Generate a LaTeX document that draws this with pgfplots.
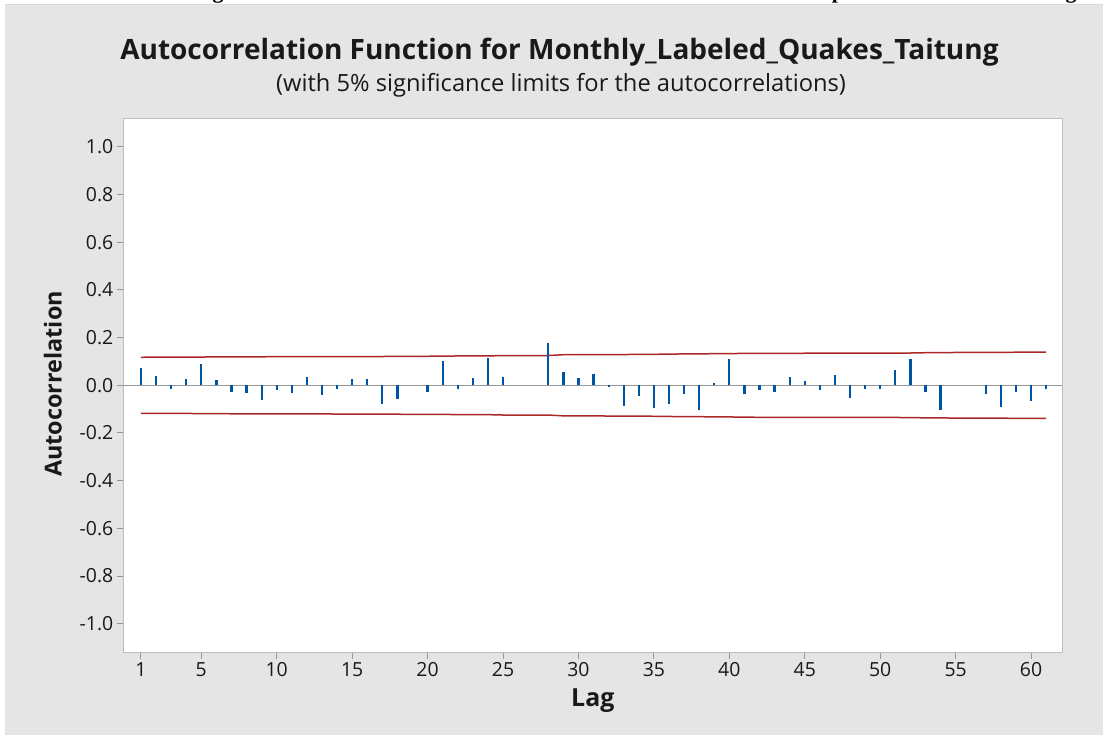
\documentclass[border=0pt]{standalone}
\usepackage{pgfplots}
\pgfplotsset{compat=1.18}
\usepackage{pgfplotstable}
\usepackage{fontspec}
\setmainfont{Open Sans}
\newfontfamily\serifb{Liberation Serif}
\definecolor{bg}{RGB}{229,229,229}
\definecolor{acfblue}{RGB}{0,84,166}
\definecolor{limred}{RGB}{170,40,40}
\definecolor{framegray}{RGB}{190,190,190}
\definecolor{tickgray}{RGB}{150,150,150}

\pgfplotstableread{
lag r
1 0.074
2 0.038
3 -0.014
4 0.025
5 0.088
6 0.022
7 -0.029
8 -0.034
9 -0.061
10 -0.018
11 -0.034
12 0.034
13 -0.042
14 -0.015
15 0.025
16 0.025
17 -0.078
18 -0.059
19 0.000
20 -0.030
21 0.103
22 -0.015
23 0.029
24 0.115
25 0.035
26 0.000
27 0.000
28 0.176
29 0.055
30 0.031
31 0.048
32 -0.007
33 -0.087
34 -0.045
35 -0.094
36 -0.078
37 -0.036
38 -0.102
39 0.008
40 0.112
41 -0.037
42 -0.018
43 -0.029
44 0.035
45 0.020
46 -0.018
47 0.043
48 -0.053
49 -0.014
50 -0.014
51 0.063
52 0.110
53 -0.029
54 -0.102
55 0.000
56 0.000
57 -0.036
58 -0.089
59 -0.027
60 -0.066
61 -0.014
}\acftab

\pgfplotstableread{
lag up lo
1 0.1175 -0.1175
2 0.1181 -0.1181
3 0.1183 -0.1183
4 0.1183 -0.1183
5 0.1184 -0.1184
6 0.1193 -0.1193
7 0.1194 -0.1194
8 0.1195 -0.1195
9 0.1196 -0.1196
10 0.1200 -0.1200
11 0.1201 -0.1201
12 0.1202 -0.1202
13 0.1203 -0.1203
14 0.1205 -0.1205
15 0.1206 -0.1206
16 0.1206 -0.1206
17 0.1207 -0.1207
18 0.1214 -0.1214
19 0.1218 -0.1218
20 0.1218 -0.1218
21 0.1219 -0.1219
22 0.1231 -0.1231
23 0.1231 -0.1231
24 0.1232 -0.1232
25 0.1247 -0.1247
26 0.1248 -0.1248
27 0.1248 -0.1248
28 0.1248 -0.1248
29 0.1282 -0.1282
30 0.1285 -0.1285
31 0.1286 -0.1286
32 0.1289 -0.1289
33 0.1289 -0.1289
34 0.1297 -0.1297
35 0.1299 -0.1299
36 0.1308 -0.1308
37 0.1315 -0.1315
38 0.1316 -0.1316
39 0.1327 -0.1327
40 0.1327 -0.1327
41 0.1340 -0.1340
42 0.1341 -0.1341
43 0.1342 -0.1342
44 0.1343 -0.1343
45 0.1344 -0.1344
46 0.1344 -0.1344
47 0.1345 -0.1345
48 0.1347 -0.1347
49 0.1349 -0.1349
50 0.1350 -0.1350
51 0.1350 -0.1350
52 0.1354 -0.1354
53 0.1366 -0.1366
54 0.1367 -0.1367
55 0.1377 -0.1377
56 0.1377 -0.1377
57 0.1377 -0.1377
58 0.1379 -0.1379
59 0.1387 -0.1387
60 0.1387 -0.1387
61 0.1392 -0.1392
}\limtab

\begin{document}
\begin{tikzpicture}[x=1bp,y=1bp]
\useasboundingbox (0,0) rectangle (1103,735);
\fill[white] (0,0) rectangle (1103,735);
\fill[bg] (5,0) rectangle (1103,730);
\draw[framegray!60, line width=1bp] (5,730.5) -- (1103,730.5);
\begin{axis}[
  at={(123.3bp,82.7bp)}, anchor=south west,
  scale only axis, width=939bp, height=534bp,
  xmin=-0.17, xmax=62.07, ymin=-1.12, ymax=1.12,
  axis background/.style={fill=white},
  axis line style={framegray, line width=1bp},
  xtick={1,5,10,15,20,25,30,35,40,45,50,55,60},
  ytick={-1,-0.8,-0.6,-0.4,-0.2,0,0.2,0.4,0.6,0.8,1},
  tick pos=left, tick align=outside,
  major tick length=6.5bp,
  tick style={tickgray, line width=1bp},
  ticklabel style={font=\fontsize{19.5}{21}\selectfont, text=black!90},
  yticklabel style={/pgf/number format/fixed, /pgf/number format/fixed zerofill, /pgf/number format/precision=1, /pgf/number format/assume math mode=true},
  xticklabel style={/pgf/number format/assume math mode=true},
  clip=false,
]
\addplot[tickgray, line width=1.2bp, forget plot] coordinates {(-0.17,0) (62.07,0)};
\addplot[limred, line width=1.5bp, forget plot] table[x=lag,y=up]{\limtab};
\addplot[limred, line width=1.5bp, forget plot] table[x=lag,y=lo]{\limtab};
\addplot[ycomb, acfblue, line width=2.3bp, no markers, forget plot] table[x=lag,y=r]{\acftab};
\end{axis}
\node[font=\fontsize{28.1}{31}\selectfont\bfseries, anchor=base, text=black!90] at (559.5,675) {Autocorrelation Function for Monthly\_Labeled\_Quakes\_Taitung};
\node[font=\fontsize{23.8}{26}\selectfont, anchor=base, text=black!90] at (561,643.3) {(with 5\% significance limits for the autocorrelations)};
\node[font=\fontsize{25}{27}\selectfont\bfseries, anchor=base, text=black!90] at (592.8,28.3) {Lag};
\node[font=\fontsize{23.5}{26}\selectfont\bfseries, rotate=90, anchor=base, text=black!90] at (61.7,351) {Autocorrelation};
\node[font=\serifb\bfseries\fontsize{22}{24}\selectfont, anchor=base] at (218,736.5) {g};
\node[font=\serifb\bfseries\fontsize{22}{24}\selectfont, anchor=base] at (838,736.5) {p};
\node[font=\serifb\bfseries\fontsize{22}{24}\selectfont, anchor=base] at (1071,736.5) {g};
\end{tikzpicture}
\end{document}
